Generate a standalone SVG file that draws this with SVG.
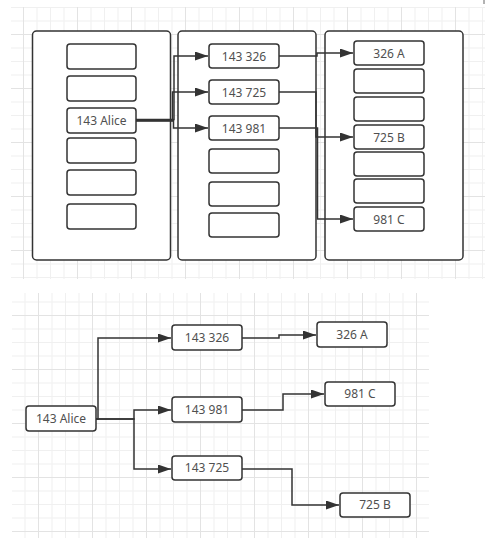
<svg xmlns="http://www.w3.org/2000/svg" width="485" height="547" viewBox="0 0 485 547">
<style>
.box{fill:#fff;stroke:#333;stroke-width:1.5}
.cont{fill:#fff;stroke:#333;stroke-width:1.5}
.lbl{font-family:"Noto Sans","Liberation Sans",sans-serif;font-size:12px;fill:#505050;text-anchor:middle}
.edge{fill:none;stroke:#333;stroke-width:1.5}
</style>
<defs>
<marker id="arr" markerUnits="userSpaceOnUse" markerWidth="13" markerHeight="9" refX="13" refY="4.5" orient="auto">
<path d="M0,0 L13,4.5 L0,9 z" fill="#333"/>
</marker>
<pattern id="gridTop" patternUnits="userSpaceOnUse" x="23" y="34" width="54" height="54">
<rect x="13.5" y="0" width="1" height="54" fill="#f0f0f0"/>
<rect x="27" y="0" width="1" height="54" fill="#f0f0f0"/>
<rect x="40.5" y="0" width="1" height="54" fill="#f0f0f0"/>
<rect x="0" y="13.5" width="54" height="1" fill="#f0f0f0"/>
<rect x="0" y="27" width="54" height="1" fill="#f0f0f0"/>
<rect x="0" y="40.5" width="54" height="1" fill="#f0f0f0"/>
<rect x="0" y="0" width="1" height="54" fill="#e3e3e3"/>
<rect x="0" y="0" width="54" height="1" fill="#e3e3e3"/>
</pattern>
<pattern id="gridBot" patternUnits="userSpaceOnUse" x="38" y="315" width="54" height="54">
<rect x="13.5" y="0" width="1" height="54" fill="#f0f0f0"/>
<rect x="27" y="0" width="1" height="54" fill="#f0f0f0"/>
<rect x="40.5" y="0" width="1" height="54" fill="#f0f0f0"/>
<rect x="0" y="13.5" width="54" height="1" fill="#f0f0f0"/>
<rect x="0" y="27" width="54" height="1" fill="#f0f0f0"/>
<rect x="0" y="40.5" width="54" height="1" fill="#f0f0f0"/>
<rect x="0" y="0" width="1" height="54" fill="#e3e3e3"/>
<rect x="0" y="0" width="54" height="1" fill="#e3e3e3"/>
</pattern>
</defs>
<rect width="485" height="547" fill="#fff"/>
<rect x="11" y="7" width="474" height="272" fill="url(#gridTop)"/>
<rect x="12" y="293" width="417" height="245" fill="url(#gridBot)"/>
<line x1="484" y1="0" x2="484" y2="4" stroke="#666" stroke-width="1"/>

<!-- top containers -->
<g id="container1"><rect class="cont" x="32.5" y="31" width="138" height="229" rx="4"/></g>
<g id="container2"><rect class="cont" x="178" y="31" width="138" height="229" rx="4"/></g>
<g id="container3"><rect class="cont" x="325" y="31" width="138" height="229" rx="4"/></g>

<!-- container 1 boxes -->
<g id="t1-1"><rect class="box" x="67" y="44" width="69" height="25" rx="3"/></g>
<g id="t1-2"><rect class="box" x="67" y="76" width="69" height="25" rx="3"/></g>
<g id="t1-alice"><rect class="box" x="67" y="108" width="69" height="25" rx="3"/><text class="lbl" x="101.5" y="124.5">143 Alice</text></g>
<g id="t1-4"><rect class="box" x="67" y="138" width="69" height="25" rx="3"/></g>
<g id="t1-5"><rect class="box" x="67" y="170" width="69" height="25" rx="3"/></g>
<g id="t1-6"><rect class="box" x="67" y="204" width="69" height="25" rx="3"/></g>

<!-- container 2 boxes -->
<g id="t2-326"><rect class="box" x="209" y="44" width="70" height="24" rx="3"/><text class="lbl" x="244" y="60.5">143 326</text></g>
<g id="t2-725"><rect class="box" x="209" y="80" width="70" height="24" rx="3"/><text class="lbl" x="244" y="96.5">143 725</text></g>
<g id="t2-981"><rect class="box" x="209" y="116" width="70" height="24" rx="3"/><text class="lbl" x="244" y="132.5">143 981</text></g>
<g id="t2-4"><rect class="box" x="209" y="149" width="70" height="24" rx="3"/></g>
<g id="t2-5"><rect class="box" x="209" y="182" width="70" height="24" rx="3"/></g>
<g id="t2-6"><rect class="box" x="209" y="213" width="70" height="24" rx="3"/></g>

<!-- container 3 boxes -->
<g id="t3-326A"><rect class="box" x="354" y="41" width="70" height="24" rx="3"/><text class="lbl" x="389" y="57.5">326 A</text></g>
<g id="t3-2"><rect class="box" x="354" y="69" width="70" height="24" rx="3"/></g>
<g id="t3-3"><rect class="box" x="354" y="97" width="70" height="24" rx="3"/></g>
<g id="t3-725B"><rect class="box" x="354" y="125" width="70" height="24" rx="3"/><text class="lbl" x="389" y="141.5">725 B</text></g>
<g id="t3-5"><rect class="box" x="354" y="152" width="70" height="24" rx="3"/></g>
<g id="t3-6"><rect class="box" x="354" y="179" width="70" height="24" rx="3"/></g>
<g id="t3-981C"><rect class="box" x="354" y="207" width="70" height="24" rx="3"/><text class="lbl" x="389" y="223.5">981 C</text></g>

<!-- bottom nodes -->
<g id="b-alice"><rect class="box" x="26" y="406" width="70" height="25" rx="3"/><text class="lbl" x="61" y="422.5">143 Alice</text></g>
<g id="b-326"><rect class="box" x="172" y="325" width="70" height="25" rx="3"/><text class="lbl" x="207" y="341.5">143 326</text></g>
<g id="b-326A"><rect class="box" x="317" y="322" width="70" height="25" rx="3"/><text class="lbl" x="352" y="338.5">326 A</text></g>
<g id="b-981"><rect class="box" x="172" y="397" width="70" height="25" rx="3"/><text class="lbl" x="207" y="413.5">143 981</text></g>
<g id="b-981C"><rect class="box" x="325" y="382" width="70" height="24" rx="3"/><text class="lbl" x="360" y="398">981 C</text></g>
<g id="b-725"><rect class="box" x="172" y="456" width="70" height="24" rx="3"/><text class="lbl" x="207" y="472">143 725</text></g>
<g id="b-725B"><rect class="box" x="340" y="493" width="70" height="24" rx="3"/><text class="lbl" x="375" y="509">725 B</text></g>

<g id="connectors">
<path class="edge" d="M136,119.5 H174 V56 H208" marker-end="url(#arr)"/>
<path class="edge" d="M136,121 H172.5 V92 H208" marker-end="url(#arr)"/>
<path class="edge" d="M136,120.5 H173.5 V128 H208" marker-end="url(#arr)"/>
<path class="edge" d="M279,56 H317 V53 H353" marker-end="url(#arr)"/>
<path class="edge" d="M279,92 H316 V137 H353" marker-end="url(#arr)"/>
<path class="edge" d="M279,128 H317.5 V219 H353" marker-end="url(#arr)"/>

<path class="edge" d="M96,419 H98 V338 H171" marker-end="url(#arr)"/>
<path class="edge" d="M96,419 H134 V410 H171" marker-end="url(#arr)"/>
<path class="edge" d="M96,419 H134 V469 H171" marker-end="url(#arr)"/>
<path class="edge" d="M242,338 H279 V335 H316" marker-end="url(#arr)"/>
<path class="edge" d="M242,410 H283 V394 H324" marker-end="url(#arr)"/>
<path class="edge" d="M242,469 H292 V505 H339" marker-end="url(#arr)"/>
</g>
</svg>
